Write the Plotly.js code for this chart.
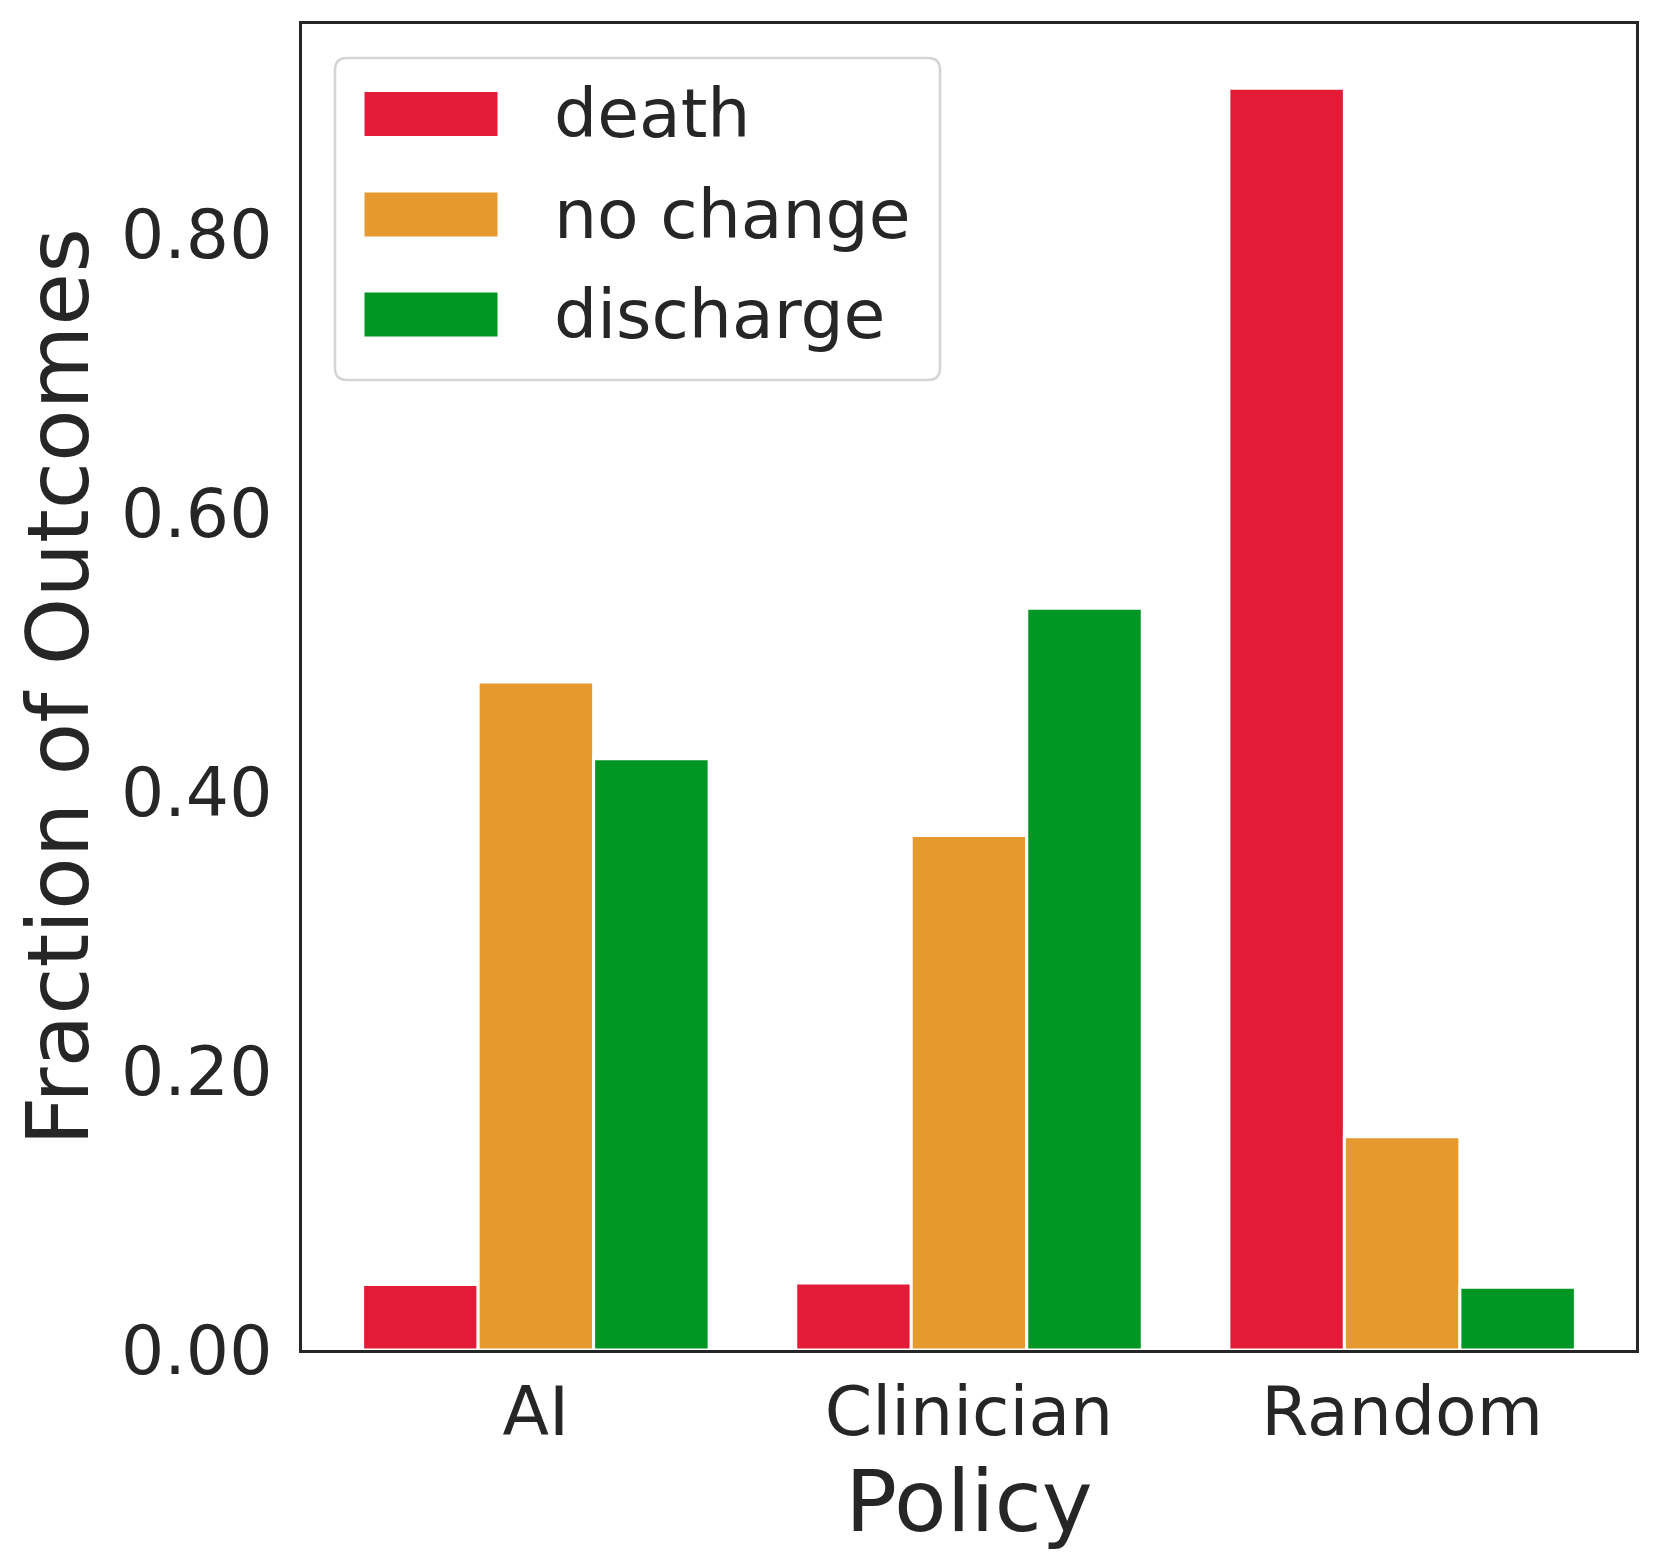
<!DOCTYPE html>
<html>
<head>
<meta charset="utf-8">
<script src="https://cdn.plot.ly/plotly-3.0.1.min.js"></script>
<style>
  html, body { margin: 0; padding: 0; background: #fff; }
  #chart { width: 1661px; height: 1566px; }
</style>
</head>
<body>
<div id="chart"></div>
<script>
// ---- data ----
const policies = ["AI", "Clinician", "Random"];
const outcomeNames = ["death", "no change", "discharge"];
const death = [0.047, 0.048, 0.905];
const noChange = [0.479, 0.369, 0.153];
const discharge = [0.424, 0.532, 0.045];
const yTickVals = [0, 0.2, 0.4, 0.6, 0.8];
const yTickText = ["0.00", "0.20", "0.40", "0.60", "0.80"];

// ---- styles ----
const colors = ["#e41b36", "#e5992e", "#009623"];
const series = [death, noChange, discharge];
const textColor = "#262626";
const fontFam = "DejaVu Sans, sans-serif";

const W = 1661, H = 1566;
const margin = {l: 302, r: 25, t: 24, b: 216};
const plotW = W - margin.l - margin.r;
const plotH = H - margin.t - margin.b;
// pixel -> paper helpers (for the hand-drawn legend box)
const px = x => (x - margin.l) / plotW;
const py = y => (H - margin.b - y) / plotH;

const traces = series.map((vals, i) => ({
  type: "bar",
  name: outcomeNames[i],
  x: policies,
  y: vals,
  marker: {color: colors[i], line: {color: "#ffffff", width: 3}},
  showlegend: false,
  hoverinfo: "x+y+name"
}));

// Legend (drawn to match matplotlib's large swatches)
const shapes = [];
const annotations = [];
const L = {x0: 335, y0: 58, x1: 940, y1: 380, r: 12};
const rx = L.r / plotW, ry = L.r / plotH;
const X0 = px(L.x0), X1 = px(L.x1), Y0 = py(L.y0), Y1 = py(L.y1);
shapes.push({
  type: "path", xref: "paper", yref: "paper",
  path: `M ${X0 + rx} ${Y0} L ${X1 - rx} ${Y0} Q ${X1} ${Y0} ${X1} ${Y0 - ry} ` +
        `L ${X1} ${Y1 + ry} Q ${X1} ${Y1} ${X1 - rx} ${Y1} ` +
        `L ${X0 + rx} ${Y1} Q ${X0} ${Y1} ${X0} ${Y1 + ry} ` +
        `L ${X0} ${Y0 - ry} Q ${X0} ${Y0} ${X0 + rx} ${Y0} Z`,
  line: {color: "#d4d4d4", width: 2.5},
  fillcolor: "rgba(255,255,255,0.85)",
  layer: "above"
});
const rowCenters = [114, 214.5, 314.5];
outcomeNames.forEach((name, i) => {
  const yc = rowCenters[i];
  shapes.push({
    type: "rect", xref: "paper", yref: "paper",
    x0: px(364), x1: px(498), y0: py(yc - 22.5), y1: py(yc + 22.5),
    fillcolor: colors[i], line: {color: "#ffffff", width: 1}, layer: "above"
  });
  annotations.push({
    xref: "paper", yref: "paper", x: px(552), y: py(yc),
    xanchor: "left", yanchor: "middle", showarrow: false,
    text: name, font: {family: fontFam, size: 68, color: textColor}
  });
});

const layout = {
  width: W, height: H,
  margin: margin,
  paper_bgcolor: "#ffffff",
  plot_bgcolor: "#ffffff",
  font: {family: fontFam, color: textColor, size: 68},
  barmode: "group",
  bargap: 0.2,
  bargroupgap: 0,
  showlegend: false,
  xaxis: {
    type: "category",
    range: [-0.54, 2.54],
    showline: true, mirror: true, linecolor: textColor, linewidth: 3,
    showgrid: false, zeroline: false, ticks: "",
    ticklabelstandoff: 0,
    tickfont: {family: fontFam, size: 68, color: textColor},
    title: {text: "Policy", font: {family: fontFam, size: 86, color: textColor}, standoff: 6}
  },
  yaxis: {
    range: [0, 0.951],
    tickvals: yTickVals, ticktext: yTickText,
    showline: true, mirror: true, linecolor: textColor, linewidth: 3,
    showgrid: false, zeroline: false, ticks: "",
    ticklabelstandoff: 13,
    tickfont: {family: fontFam, size: 68, color: textColor},
    title: {text: "Fraction of Outcomes", font: {family: fontFam, size: 86, color: textColor}, standoff: 4}
  },
  shapes: shapes,
  annotations: annotations
};

Plotly.newPlot("chart", traces, layout, {displayModeBar: false, staticPlot: true});
</script>
</body>
</html>
